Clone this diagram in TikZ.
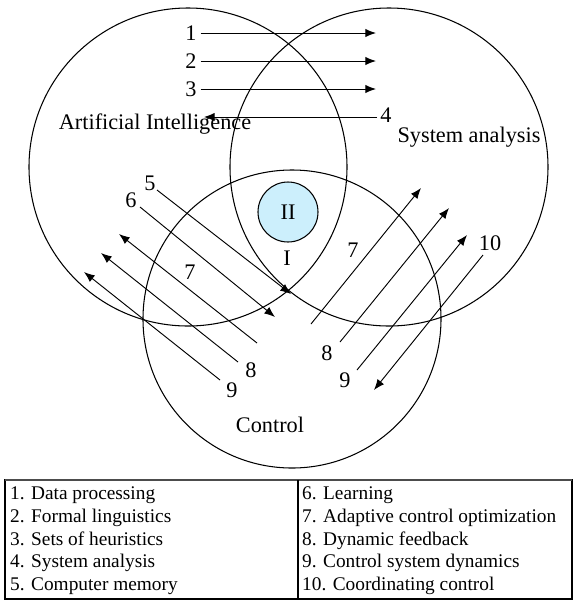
\documentclass[tikz,border=0pt]{standalone}
\usepackage{fontspec}
\setmainfont{Liberation Serif}
\usetikzlibrary{arrows.meta,positioning}

\begin{document}
\begin{tikzpicture}[x=0.03cm, y=-0.03cm, > = {Latex[length=3.2mm,width=2.5mm]}, font=\fontsize{19}{22}\selectfont]
                       \tikzstyle{ring}=[circle, draw, line width=0.9pt, inner sep=0pt]
                       \tikzstyle{seta}=[->, line width=0.8pt]
                       \tikzstyle{row}=[anchor=base west, inner sep=0pt, font=\fontsize{16.5}{19}\selectfont]

                        \useasboundingbox (0,0) rectangle (575,603);

                        % Círculos
                        \node[ring, minimum size=9.54cm] (ai) at (188,167) {};
                        \node[ring, minimum size=9.54cm] (sa) at (389,167) {};
                        \node[ring, minimum size=8.94cm] (ctl) at (292,319) {};
                        \node[ring, fill=cyan!20, minimum size=1.8cm] (ii) at (288,212) {II};

                        % Rótulos
                        \node (lai) at (155,124) {Artificial Intelligence};
                        \node (lsa) at (469,137) {System analysis};
                        \node (lctl) at (270,425) {Control};
                        \node (li) at (287,258) {I};

                        % Números
                        \node (n1) at (191,33) {1};
                        \node (n2) at (191,61) {2};
                        \node (n3) at (191,89) {3};
                        \node (n4) at (386,115) {4};
                        \node (n5) at (150,183) {5};
                        \node (n6) at (131,200) {6};
                        \node (n7a) at (190,272) {7};
                        \node (n8a) at (251,370) {8};
                        \node (n9a) at (232,390) {9};
                        \node (n7b) at (353,250) {7};
                        \node (n8b) at (327,353) {8};
                        \node (n9b) at (345,380) {9};
                        \node (n10) at (490,243) {10};

                        % Pontas das setas
                        \coordinate (e1) at (376,33);
                        \coordinate (e2) at (376,61);
                        \coordinate (e3) at (376,89);
                        \coordinate (s4) at (377,117);
                        \coordinate (e4) at (204,117);
                        \coordinate (s5) at (157,190);
                        \coordinate (e5) at (291,294);
                        \coordinate (s6) at (140,207);
                        \coordinate (e6) at (275,317);
                        \coordinate (s7a) at (257,343);
                        \coordinate (e7a) at (119,234);
                        \coordinate (s8a) at (238,362);
                        \coordinate (e8a) at (101,253);
                        \coordinate (s9a) at (220,380);
                        \coordinate (e9a) at (84,272);
                        \coordinate (s7b) at (311,324);
                        \coordinate (e7b) at (421,188);
                        \coordinate (s8b) at (340,342);
                        \coordinate (e8b) at (449,208);
                        \coordinate (s9b) at (357,370);
                        \coordinate (e9b) at (467,235);
                        \coordinate (s10) at (483,255);
                        \coordinate (e10) at (374,390);

                        % Setas
                        \draw[seta] (n1.east) -- (e1);
                        \draw[seta] (n2.east) -- (e2);
                        \draw[seta] (n3.east) -- (e3);
                        \draw[seta] (s4) -- (e4);
                        \draw[seta] (s5) -- (e5);
                        \draw[seta] (s6) -- (e6);
                        \draw[seta] (s7a) -- (e7a);
                        \draw[seta] (s8a) -- (e8a);
                        \draw[seta] (s9a) -- (e9a);
                        \draw[seta] (s7b) -- (e7b);
                        \draw[seta] (s8b) -- (e8b);
                        \draw[seta] (s9b) -- (e9b);
                        \draw[seta] (s10) -- (e10);

                        % Tabela
                        \draw[line width=0.9pt] (5,480) rectangle (572,599);
                        \draw[line width=1.4pt, black!70] (5,480) -- (572,480);
                        \draw[line width=0.9pt] (298,480) -- (298,599);
                        \node[row] (r1) at (10,499) {1. Data processing};
                        \node[row] (r2) at (10,522) {2. Formal linguistics};
                        \node[row] (r3) at (10,545) {3. Sets of heuristics};
                        \node[row] (r4) at (10,567) {4. System analysis};
                        \node[row] (r5) at (10,590) {5. Computer memory};
                        \node[row] (r6) at (302,499) {6. Learning};
                        \node[row] (r7) at (302,522) {7. Adaptive control optimization};
                        \node[row] (r8) at (302,545) {8. Dynamic feedback};
                        \node[row] (r9) at (302,567) {9. Control system dynamics};
                        \node[row] (r10) at (302,590) {10. Coordinating control};
                  \end{tikzpicture}
\end{document}
